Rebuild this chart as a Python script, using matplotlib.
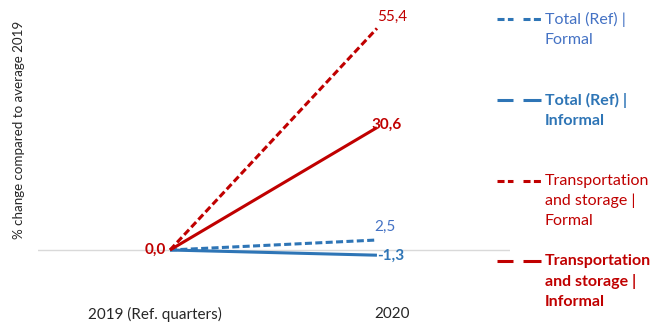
import matplotlib
matplotlib.use("Agg")
import matplotlib.pyplot as plt
from matplotlib.lines import Line2D

categories = ["2019 (Ref. quarters)", "2020"]
series_names = ["Total (Ref) |\nFormal", "Total (Ref) |\nInformal",
                "Transportation\nand storage |\nFormal", "Transportation\nand storage |\nInformal"]
total_formal = [0.0, 2.5]
total_informal = [0.0, -1.3]
transport_formal = [0.0, 55.4]
transport_informal = [0.0, 30.6]

BLUE = "#2E75B6"
BLUE_LBL = "#4472C4"
RED = "#C00000"
FONT = "Lato"

plt.rcParams['font.family'] = [FONT, 'DejaVu Sans']

W, H = 652, 324
fig = plt.figure(figsize=(W / 100, H / 100), dpi=100)
ax = fig.add_axes([38 / W, 1 - 294 / H, (510 - 38) / W, (294 - 10) / H])

x = [0, 1]
series = [
    (total_formal, BLUE, "--", False),
    (total_informal, BLUE, "-", True),
    (transport_formal, RED, "--", False),
    (transport_informal, RED, "-", True),
]
DASH = (2.3, 1.1)

ax.axhline(0, color="#D9D9D9", lw=1.0, zorder=0)
for vals, col, ls, bold in series:
    ln, = ax.plot(x, vals, color=col, lw=2.2, ls=ls, solid_capstyle="butt", zorder=3)
    if ls == "--":
        ln.set_dashes(DASH)

ax.set_xlim(-0.638, 1.643)
ax.set_ylim(-11, 60)
ax.set_yticks([])
ax.set_xticks([-0.072, 1.072])
ax.set_xticklabels(categories, fontsize=11, color="#262626")
ax.tick_params(axis="x", length=0, pad=9)
for s in ax.spines.values():
    s.set_visible(False)

ax.set_ylabel("% change compared to average 2019", fontsize=9.6, color="#262626", labelpad=2)
ax.yaxis.set_label_coords(-0.027, 0.577)

def fmt(v):
    return f"{v:.1f}".replace(".", ",")

# data labels at 2020 (offsets in pixels)
lbl = [
    (transport_formal[1], RED, "normal", 15, 12),
    (transport_informal[1], RED, "bold", 10, 3),
    (total_formal[1], BLUE_LBL, "normal", 8, 13),
    (total_informal[1], BLUE, "bold", 14, -1),
]
for v, col, w, dx, dy in lbl:
    ax.annotate(fmt(v), (1, v), xytext=(dx, dy), textcoords="offset pixels",
                ha="center", va="center", color=col, fontweight=w, fontsize=11, zorder=5)
ax.annotate(fmt(transport_informal[0]), (0, 0), xytext=(-4, 0), textcoords="offset pixels",
            ha="right", va="center", color=RED, fontweight="bold", fontsize=11)

# legend
leg_y = [19, 100, 181, 261]
for (vals, col, ls, bold), name, yy in zip(series, series_names, leg_y):
    yf = 1 - yy / H
    for x0, x1 in [(497, 513), (523, 541)]:
        l = Line2D([x0 / W, x1 / W], [yf, yf], color=col, lw=2.2, ls=ls,
                   solid_capstyle="butt", transform=fig.transFigure)
        if ls == "--":
            l.set_dashes(DASH)
        fig.add_artist(l)
    fig.text(545 / W, 1 - (yy - 7) / H, name, color=col if not (col == BLUE and not bold) else BLUE_LBL,
             fontweight="bold" if bold else "normal", fontsize=11.5, va="top", ha="left",
             linespacing=1.52)

fig.savefig("out.png", dpi=100)
